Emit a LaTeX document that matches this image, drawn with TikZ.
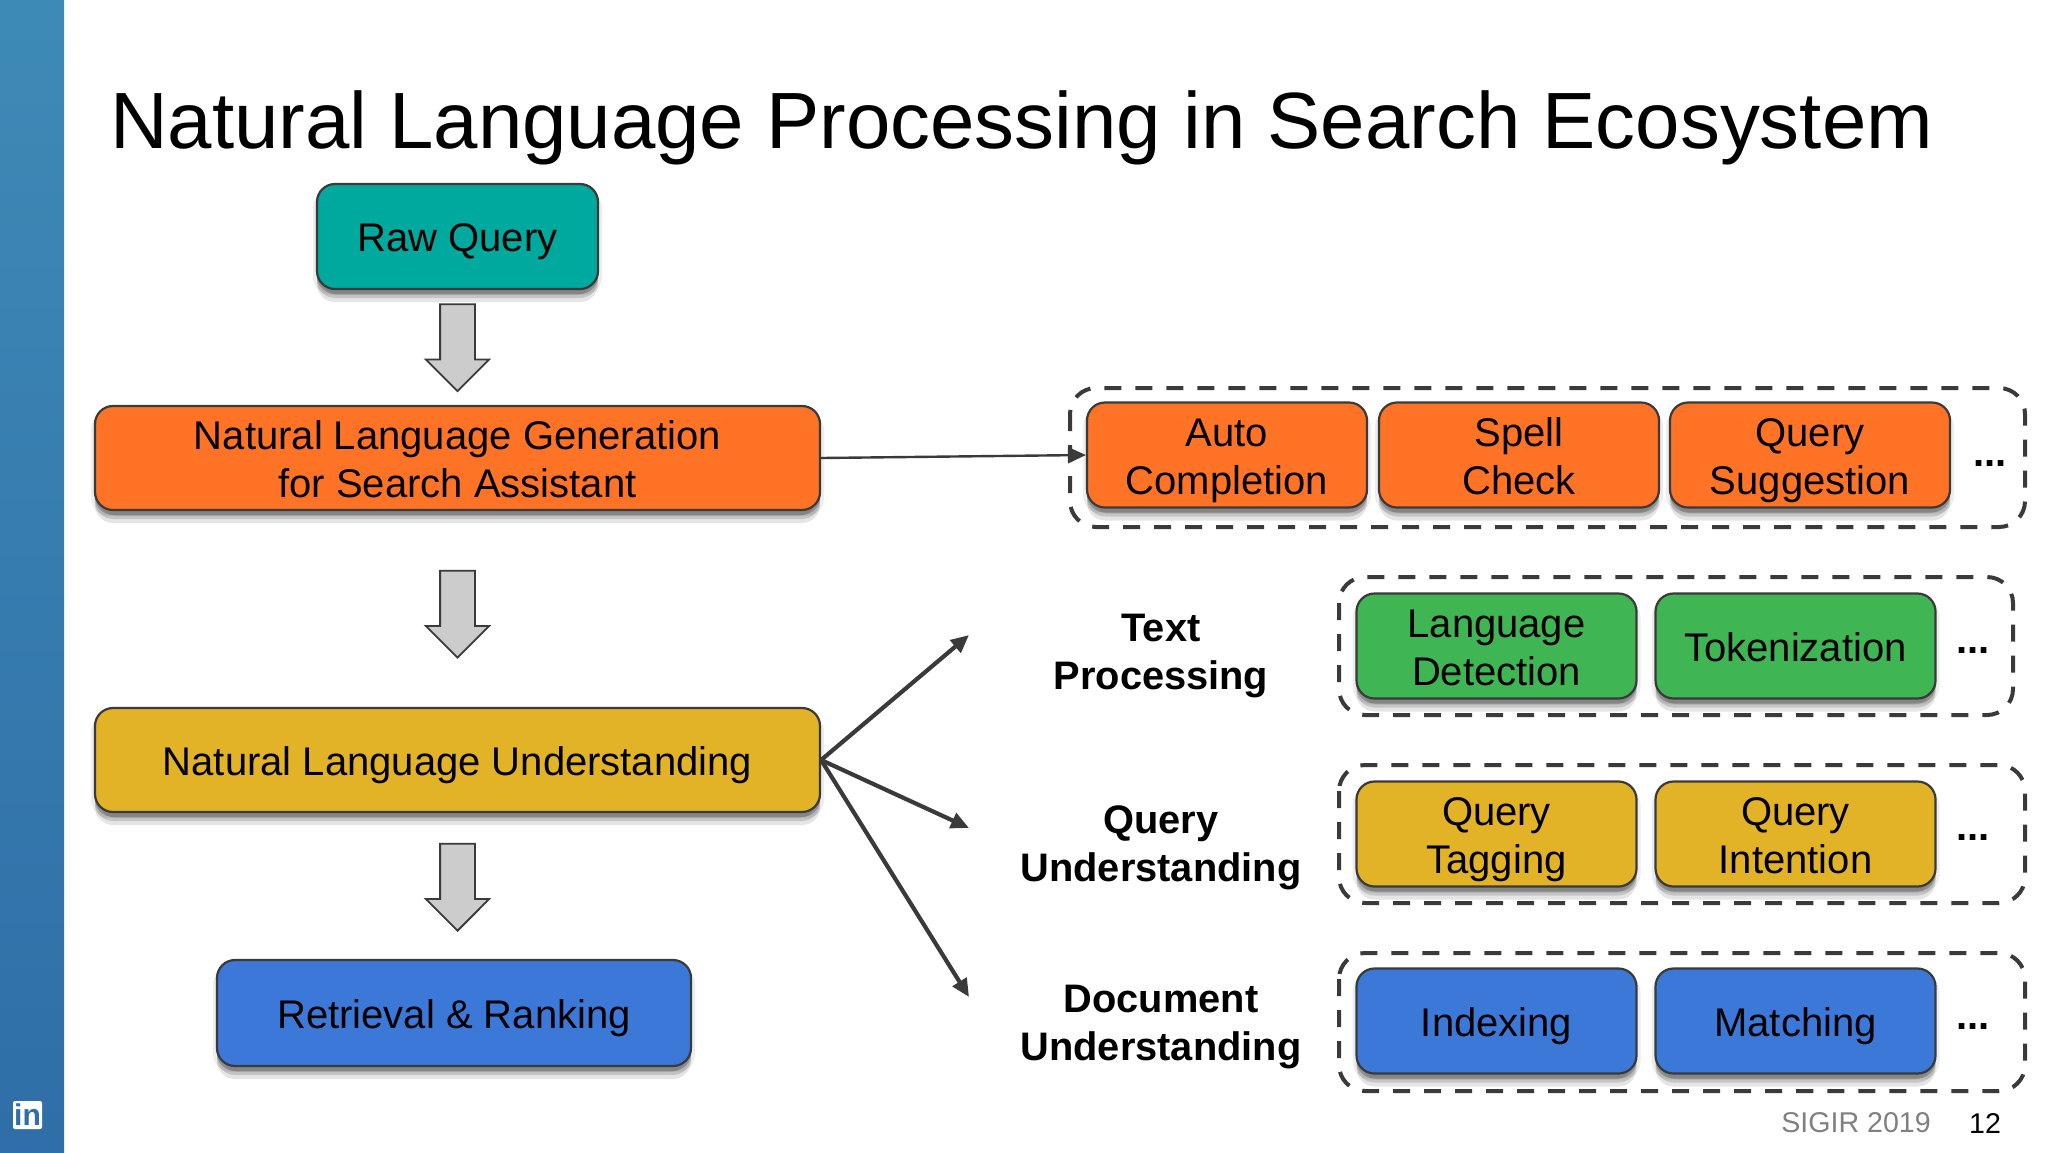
\documentclass[tikz,border=0pt]{standalone}
\usepackage{fontspec}
\setmainfont{Liberation Sans}
\usetikzlibrary{shapes.arrows,shadows,arrows.meta}
\definecolor{sidetop}{HTML}{3E8AB6}
\definecolor{sidelow}{HTML}{2F6EA8}
\definecolor{linecol}{HTML}{3A3A3A}
\definecolor{tealc}{HTML}{00A99D}
\definecolor{orangec}{HTML}{FF7326}
\definecolor{yellowc}{HTML}{E2B227}
\definecolor{greenc}{HTML}{3FB553}
\definecolor{bluec}{HTML}{3C78D8}
\tikzset{
  bodyfont/.style={font=\fontsize{20}{23.8}\selectfont},
  softshadow/.style={
    drop shadow={shadow xshift=2pt, shadow yshift=-3pt, opacity=.07, fill=black},
    drop shadow={shadow xshift=-2pt, shadow yshift=-3pt, opacity=.07, fill=black},
    drop shadow={shadow xshift=0pt, shadow yshift=-6.5pt, opacity=.10, fill=black},
    drop shadow={shadow xshift=0pt, shadow yshift=-4.5pt, opacity=.14, fill=black},
    drop shadow={shadow xshift=0pt, shadow yshift=-2.5pt, opacity=.22, fill=black}},
  pbox/.style={draw=linecol, line width=1.1pt, fill=#1, rounded corners=9pt, align=center, bodyfont,
    inner sep=0pt, softshadow,
    execute at begin node={\rule{0pt}{20pt}}, execute at end node={\rule[-4.6pt]{0pt}{4.6pt}}},
  twolines/.style={execute at begin node={\rule{0pt}{43.8pt}}},
  wbox/.style={pbox=#1, minimum width=140pt, minimum height=52.5pt},
  groupbox/.style={draw=linecol, line width=2pt, dash pattern=on 8.5pt off 7pt, rounded corners=13pt},
  downarrow/.style={single arrow, draw=linecol, line width=.9pt, fill=black!20, rotate=-90,
    inner xsep=0pt, inner ysep=8.25pt, minimum height=43.5pt, single arrow head extend=7.2pt, single arrow tip angle=90},
  catlabel/.style={align=center, font=\fontsize{19.9}{23.8}\selectfont\bfseries},
  dotslabel/.style={font=\fontsize{20}{23.5}\selectfont\bfseries},
  flowline/.style={draw=linecol, line width=2.1pt, -{Triangle[length=9pt,width=8pt]}}
}
\begin{document}
\begin{tikzpicture}[x=0.5pt,y=-0.5pt]
    \useasboundingbox (0,0) rectangle (2048,1152);
    \shade[top color=sidetop, bottom color=sidelow] (0,0) rectangle (64,1152);
    \node[fill=white, rounded corners=1pt, text=sidelow, inner sep=0pt, minimum width=14.5pt, minimum height=14pt,
      font=\fontsize{15}{15}\selectfont\bfseries] (logo) at (27.5,1115) {in};
    \node[anchor=west, font=\fontsize{39.9}{46}\selectfont] (title) at (103,128) {Natural Language Processing in Search Ecosystem};
    % left column
    \node[pbox=tealc, minimum width=140.5pt, minimum height=52.5pt] (raw) at (457.5,236.5) {Raw Query};
    \node[downarrow] (d1) at (457.5,339) {};
    \node[pbox=orangec, twolines, minimum width=362.5pt, minimum height=52pt] (nlg) at (457.5,458) {Natural Language Generation\\for Search Assistant};
    \node[downarrow] (d2) at (457.5,605.5) {};
    \node[pbox=yellowc, minimum width=362.5pt, minimum height=52pt] (nlu) at (457.5,760) {Natural Language Understanding};
    \node[downarrow] (d3) at (457.5,878.5) {};
    \node[pbox=bluec, minimum width=237pt, minimum height=53pt] (rank) at (454,1013) {Retrieval \& Ranking};
    % dashed groups
    \draw[groupbox] (1070,388) rectangle (2025,527);
    \draw[groupbox] (1339,577) rectangle (2013,715);
    \draw[groupbox] (1339,765) rectangle (2025,903);
    \draw[groupbox] (1339,953) rectangle (2025,1091);
    % nlg group
    \node[wbox=orangec, twolines] (auto) at (1227,455) {Auto\\Completion};
    \node[wbox=orangec, twolines] (spell) at (1519,455) {Spell\\Check};
    \node[wbox=orangec, twolines] (sugg) at (1810,455) {Query\\Suggestion};
    \node[dotslabel] (dots1) at (1990,464) {...};
    % nlu groups
    \node[wbox=greenc, twolines] (lang) at (1496.5,646) {Language\\Detection};
    \node[wbox=greenc] (token) at (1795.5,646) {Tokenization};
    \node[dotslabel] (dots2) at (1973,651) {...};
    \node[wbox=yellowc, twolines] (tag) at (1496.5,834) {Query\\Tagging};
    \node[wbox=yellowc, twolines] (intent) at (1795.5,834) {Query\\Intention};
    \node[dotslabel] (dots3) at (1973,838) {...};
    \node[wbox=bluec] (index) at (1496.5,1021) {Indexing};
    \node[wbox=bluec] (match) at (1795.5,1021) {Matching};
    \node[dotslabel] (dots4) at (1973,1026) {...};
    \node[catlabel] (textp) at (1161,656) {Text\\Processing};
    \node[catlabel] (queryu) at (1161,848) {Query\\Understanding};
    \node[catlabel] (docu) at (1161,1027) {Document\\Understanding};
    % connectors
    \coordinate (t1) at (969,635);
    \coordinate (t2) at (969,828);
    \coordinate (t3) at (969,997);
    \draw[flowline, line width=1.2pt] (nlg.east) -- (auto.west);
    \draw[flowline] (nlu.east) -- (t1);
    \draw[flowline] (nlu.east) -- (t2);
    \draw[flowline] (nlu.east) -- (t3);
    % footer
    \node[text=black!50, font=\fontsize{14.3}{16}\selectfont] (conf) at (1856,1123) {SIGIR 2019};
    \node[font=\fontsize{14.3}{16}\selectfont] (page) at (1985,1123) {12};
\end{tikzpicture}
\end{document}
